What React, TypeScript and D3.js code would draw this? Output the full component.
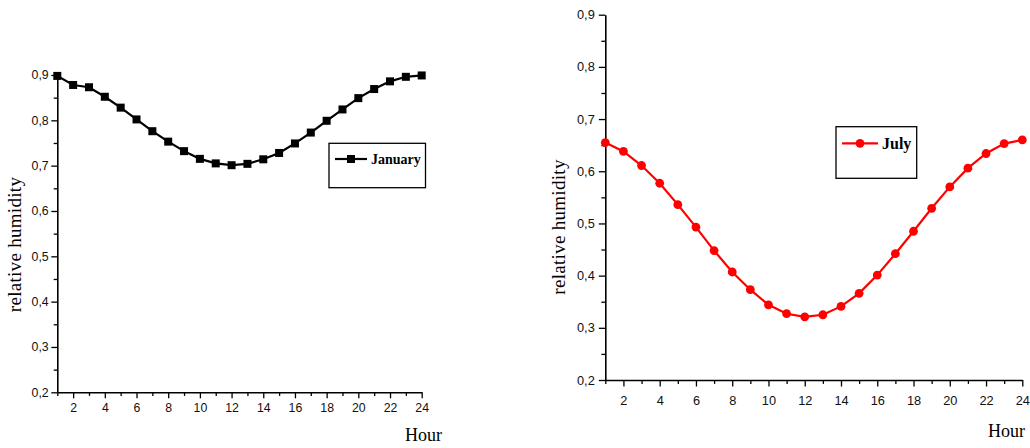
import React, { useEffect, useRef } from 'react';
import * as d3 from 'd3';

const hours = d3.range(1, 25);
const januaryRH = [0.898, 0.878, 0.873, 0.852, 0.828, 0.802, 0.776, 0.753, 0.732, 0.715, 0.705, 0.701,
  0.704, 0.714, 0.728, 0.749, 0.773, 0.799, 0.824, 0.849, 0.869, 0.886, 0.896, 0.899];
const julyRH = [0.655, 0.638, 0.611, 0.577, 0.536, 0.493, 0.448, 0.407, 0.373, 0.344, 0.327, 0.321,
  0.325, 0.341, 0.366, 0.401, 0.442, 0.485, 0.529, 0.570, 0.606, 0.634, 0.653, 0.660];
const yMajor = [0.2, 0.3, 0.4, 0.5, 0.6, 0.7, 0.8, 0.9];
const yMinor = [0.25, 0.35, 0.45, 0.55, 0.65, 0.75, 0.85];
const xMajor = [2, 4, 6, 8, 10, 12, 14, 16, 18, 20, 22, 24];
const xMinor = [1, 3, 5, 7, 9, 11, 13, 15, 17, 19, 21, 23];

const panels = [
  {
    name: 'January', values: januaryRH, color: '#000', marker: 'square',
    x0: 57.3, x1: 421.7, yTop: 75, yBot: 392.3, font: 12.3, tick: 6, yPad: 2.6, xPad: 5,
    titleX: 21, titleY: 244.5, hourX: 405, hourY: 441,
    legend: { x: 329, y: 143.3, w: 96.5, h: 44.4, lineY: 159, l0: 335, l1: 367, textX: 371, textY: 164, size: 14 },
  },
  {
    name: 'July', values: julyRH, color: '#ff0000', marker: 'circle',
    x0: 605.3, x1: 1022.3, yTop: 14.7, yBot: 380, font: 12.8, tick: 6.5, yPad: 4, xPad: 9.5,
    titleX: 565, titleY: 227, hourX: 988, hourY: 437,
    legend: { x: 836, y: 126.7, w: 80.7, h: 51.6, lineY: 143.3, l0: 842, l1: 878, textX: 882, textY: 149, size: 16 },
  },
];

export default function App() {
  const ref = useRef<SVGSVGElement>(null);

  useEffect(() => {
    const svg = d3.select(ref.current);
    svg.selectAll('*').remove();

    panels.forEach(p => {
      const x = d3.scaleLinear().domain([1, 24]).range([p.x0, p.x1]);
      const y = d3.scaleLinear().domain([0.2, 0.9]).range([p.yBot, p.yTop]);
      const g = svg.append('g');
      const fmt = (d: any) => d3.format('.1f')(d).replace('.', ',');

      // y axis
      const ya = g.append('g').attr('transform', `translate(${p.x0},0)`)
        .call(d3.axisLeft(y).tickValues(yMajor).tickFormat(fmt).tickSize(p.tick).tickPadding(p.yPad).tickSizeOuter(0));
      g.append('g').attr('transform', `translate(${p.x0},0)`)
        .call(d3.axisLeft(y).tickValues(yMinor).tickFormat(() => '').tickSize(p.tick * 0.6).tickSizeOuter(0))
        .select('.domain').remove();

      // x axis
      const xa = g.append('g').attr('transform', `translate(0,${p.yBot})`)
        .call(d3.axisBottom(x).tickValues(xMajor).tickSize(p.tick).tickPadding(p.xPad).tickSizeOuter(0));
      g.append('g').attr('transform', `translate(0,${p.yBot})`)
        .call(d3.axisBottom(x).tickValues(xMinor).tickFormat(() => '').tickSize(p.tick * 0.6).tickSizeOuter(0))
        .select('.domain').remove();

      g.selectAll('.domain').attr('stroke', '#000').attr('stroke-width', 1.6);
      g.selectAll('.tick line').attr('stroke', '#000').attr('stroke-width', 1.3);
      [ya, xa].forEach(a => a.selectAll('text')
        .attr('font-family', '"Liberation Sans", Arial, sans-serif')
        .attr('font-size', p.font).attr('fill', '#111'));

      // line
      const line = d3.line<number>().x((_, i) => x(hours[i])).y(d => y(d));
      g.append('path').datum(p.values).attr('d', line)
        .attr('fill', 'none').attr('stroke', p.color).attr('stroke-width', 2.2);

      if (p.marker === 'square') {
        g.selectAll('rect.m').data(p.values).enter().append('rect')
          .attr('x', (_, i) => x(hours[i]) - 4).attr('y', d => y(d) - 4)
          .attr('width', 8).attr('height', 8).attr('fill', p.color);
      } else {
        g.selectAll('circle.m').data(p.values).enter().append('circle')
          .attr('cx', (_, i) => x(hours[i])).attr('cy', d => y(d))
          .attr('r', 4.4).attr('fill', p.color);
      }

      // titles
      g.append('text')
        .attr('transform', `translate(${p.titleX},${p.titleY}) rotate(-90)`)
        .attr('text-anchor', 'middle')
        .attr('font-family', '"Liberation Serif", "Times New Roman", serif')
        .attr('font-size', 19).attr('letter-spacing', 0.3)
        .text('relative humidity');
      g.append('text').attr('x', p.hourX).attr('y', p.hourY)
        .attr('font-family', '"Liberation Serif", "Times New Roman", serif')
        .attr('font-size', 18).text('Hour');

      // legend
      const L = p.legend;
      g.append('rect').attr('x', L.x).attr('y', L.y).attr('width', L.w).attr('height', L.h)
        .attr('fill', '#fff').attr('stroke', '#000').attr('stroke-width', 1.3);
      g.append('line').attr('x1', L.l0).attr('x2', L.l1).attr('y1', L.lineY).attr('y2', L.lineY)
        .attr('stroke', p.color).attr('stroke-width', 2.2);
      const mx = (L.l0 + L.l1) / 2;
      if (p.marker === 'square') {
        g.append('rect').attr('x', mx - 4).attr('y', L.lineY - 4).attr('width', 8).attr('height', 8).attr('fill', p.color);
      } else {
        g.append('circle').attr('cx', mx).attr('cy', L.lineY).attr('r', 4.4).attr('fill', p.color);
      }
      g.append('text').attr('x', L.textX).attr('y', L.textY)
        .attr('font-family', '"Liberation Serif", "Times New Roman", serif')
        .attr('font-weight', 'bold').attr('font-size', L.size).text(p.name);
    });
  }, []);

  return (
    <svg ref={ref} width={1030} height={448}
      style={{ position: 'absolute', left: 0, top: 0, background: '#fff' }} />
  );
}
